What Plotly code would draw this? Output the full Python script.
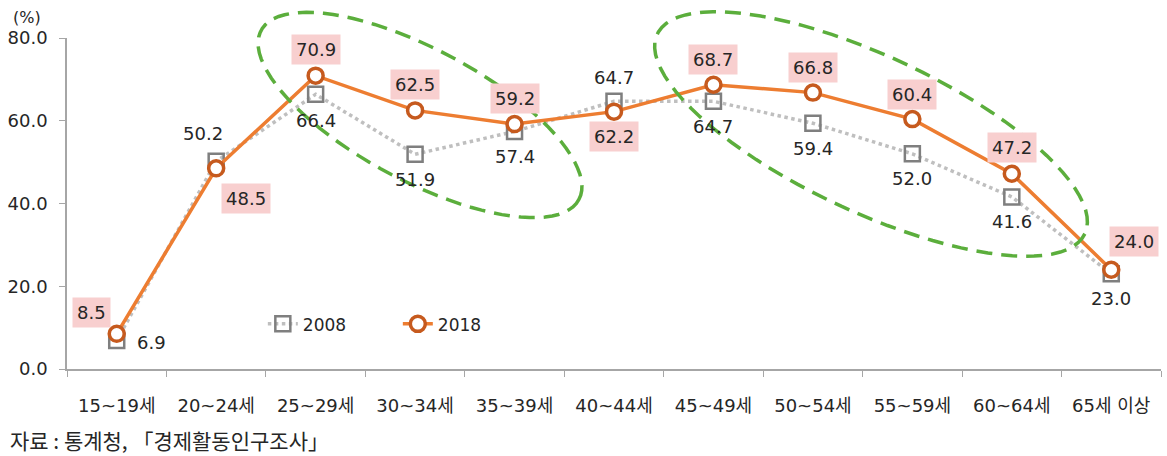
import numpy as np
import plotly.graph_objects as go

# 연령대별 고용률 (%)
ages = ["15~19세", "20~24세", "25~29세", "30~34세", "35~39세", "40~44세",
        "45~49세", "50~54세", "55~59세", "60~64세", "65세 이상"]
rate_2008 = [6.9, 50.2, 66.4, 51.9, 57.4, 64.7, 64.7, 59.4, 52.0, 41.6, 23.0]
rate_2018 = [8.5, 48.5, 70.9, 62.5, 59.2, 62.2, 68.7, 66.8, 60.4, 47.2, 24.0]

# label offsets (px) for each point
off_2008 = [(35, -2), (-13, 28), (0, -26), (0, -25), (0, -25), (0, 24),
            (0, -25), (0, -25), (0, -25), (0, -25), (0, -25)]
off_2018 = [(-25, 21), (30, -30), (0, 26), (0, 26), (0, 26), (0, -25),
            (0, 25), (0, 25), (0, 25), (0, 26), (23, 28)]

FONT = "DejaVu Sans, Noto Sans CJK KR, sans-serif"
TXT = "#262626"

fig = go.Figure()
fig.add_trace(go.Scatter(
    x=ages, y=rate_2008, name="2008", mode="lines+markers",
    line=dict(color="#BFBFBF", width=3.5, dash="dot"),
    marker=dict(symbol="square-open", size=15, color="#7F7F7F", line=dict(width=2.5)),
))
fig.add_trace(go.Scatter(
    x=ages, y=rate_2018, name="2018", mode="lines+markers",
    line=dict(color="#ED7D31", width=3.5),
    marker=dict(symbol="circle", size=15, color="white",
                line=dict(color="#C65A1E", width=3.5)),
))

for a, v, (dx, dy) in zip(ages, rate_2008, off_2008):
    fig.add_annotation(x=a, y=v, text=f"{v:.1f}", showarrow=False,
                       xshift=dx, yshift=dy, font=dict(size=18, color=TXT))
for a, v, (dx, dy) in zip(ages, rate_2018, off_2018):
    fig.add_annotation(x=a, y=v, text=f"{v:.1f}", showarrow=False,
                       xshift=dx, yshift=dy, font=dict(size=18, color=TXT),
                       bgcolor="#F8CFCF", borderpad=4)

# green dashed ellipses (pixel-space geometry converted to paper coords)
L, R, T, B = 67, 1161, 38, 369


def ellipse_path(cx, cy, a, b, deg, n=90):
    th = np.radians(deg)
    t = np.linspace(0, 2 * np.pi, n)
    px = cx + a * np.cos(t) * np.cos(th) - b * np.sin(t) * np.sin(th)
    py = cy + a * np.cos(t) * np.sin(th) + b * np.sin(t) * np.cos(th)
    xs = (px - L) / (R - L)
    ys = (B - py) / (B - T)
    pts = [f"{x:.4f},{y:.4f}" for x, y in zip(xs, ys)]
    return "M" + " L".join(pts) + " Z"


for e in [(420, 115, 180, 66, 28), (871, 134, 236, 78, 25)]:
    fig.add_shape(type="path", path=ellipse_path(*e), xref="paper", yref="paper",
                  line=dict(color="#5BAE3C", width=3.5, dash="16px,9px"))

fig.add_annotation(x=0, y=1, xref="paper", yref="paper", text="(%)", showarrow=False,
                   xanchor="center", yanchor="middle", xshift=-40, yshift=21,
                   font=dict(size=16, color=TXT))
fig.add_annotation(x=0, y=0, xref="paper", yref="paper",
                   text="자료 : 통계청, 「경제활동인구조사」", showarrow=False,
                   xanchor="left", yanchor="middle", xshift=-59, yshift=-71,
                   font=dict(size=21, color=TXT, family="Noto Sans CJK KR"))

fig.update_xaxes(type="category", range=[-0.5, 10.5], tickson="boundaries",
                 ticks="outside", ticklen=6, tickcolor="#A6A6A6", automargin=False,
                 showline=True, linecolor="#A6A6A6", linewidth=1.5, showgrid=False,
                 tickfont=dict(size=18, color=TXT), ticklabelstandoff=20)
fig.update_yaxes(range=[0, 80], dtick=20, tickformat=".1f", automargin=False,
                 ticks="outside", ticklen=6, tickcolor="#A6A6A6",
                 showline=True, linecolor="#A6A6A6", linewidth=1.5, showgrid=False,
                 zeroline=False, tickfont=dict(size=18, color=TXT),
                 ticklabelstandoff=8)

fig.update_layout(
    width=1167, height=456,
    margin=dict(l=67, r=6, t=38, b=87),
    plot_bgcolor="white", paper_bgcolor="white",
    font=dict(family=FONT, color=TXT),
    showlegend=True,
    legend=dict(orientation="h", x=0.179, y=0.135, xanchor="left", yanchor="middle",
                entrywidth=90, font=dict(size=17, color=TXT),
                bgcolor="rgba(0,0,0,0)"),
)

fig.write_html("out.html", config={"displayModeBar": False},
               post_script="document.body.style.margin='0';")
